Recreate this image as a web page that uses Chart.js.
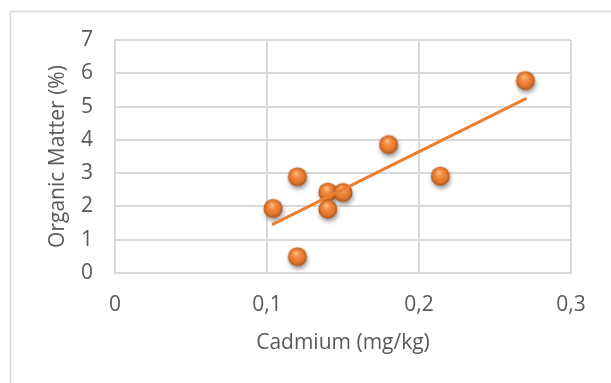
<!DOCTYPE html>
<html>
<head>
<meta charset="utf-8">
<script src="https://cdn.jsdelivr.net/npm/chart.js@4/dist/chart.umd.min.js"></script>
<style>
  html, body { margin: 0; padding: 0; background: #ffffff; }
  #wrap { width: 611px; height: 383px; }
</style>
</head>
<body>
<div id="wrap"><canvas id="chart" width="611" height="383"></canvas></div>
<script>
// Cadmium content of each soil sample (mg/kg) and its organic matter (%)
const cadmium = [0.104, 0.12, 0.12, 0.14, 0.14, 0.15, 0.18, 0.214, 0.27];
const organicMatter = [1.94, 2.89, 0.49, 2.43, 1.92, 2.42, 3.86, 2.91, 5.78];

// Linear trend line end points
const trendCadmium = [0.104, 0.27];
const trendOrganic = [1.47, 5.23];

// Axis ranges and tick steps
const xTicks = [0, 0.1, 0.2, 0.3];
const yTicks = [0, 1, 2, 3, 4, 5, 6, 7];

const xTitle = 'Cadmium (mg/kg)';
const yTitle = 'Organic Matter (%)';

const ORANGE = '#ED7D31';
const TEXT = '#595959';
const GRID = '#d9d9d9';
const FONT = { family: "'Open Sans', sans-serif", size: 21 };

// Shaded sphere marker with a soft drop shadow
function makeSphere() {
  const c = document.createElement('canvas');
  c.width = 34; c.height = 34;
  const g = c.getContext('2d');
  const cx = 17, cy = 17, r = 9.5;
  g.save();
  g.shadowColor = 'rgba(0,0,0,0.38)';
  g.shadowBlur = 4;
  g.shadowOffsetX = 1;
  g.shadowOffsetY = 3;
  const grad = g.createRadialGradient(cx - 1.5, cy - 4, 0.5, cx, cy, r);
  grad.addColorStop(0, '#fbbd86');
  grad.addColorStop(0.35, '#f28c3f');
  grad.addColorStop(0.75, '#e0752b');
  grad.addColorStop(1, '#a9521a');
  g.fillStyle = grad;
  g.beginPath();
  g.arc(cx, cy, r, 0, Math.PI * 2);
  g.fill();
  g.restore();
  return c;
}
const sphere = makeSphere();

const points = cadmium.map((x, i) => ({ x: x, y: organicMatter[i] }));
const trend = trendCadmium.map((x, i) => ({ x: x, y: trendOrganic[i] }));

// White background and the chart frame
const framePlugin = {
  id: 'frame',
  beforeDraw(chart) {
    const ctx = chart.ctx;
    ctx.save();
    ctx.fillStyle = '#ffffff';
    ctx.fillRect(0, 0, chart.width, chart.height);
    ctx.strokeStyle = GRID;
    ctx.lineWidth = 1.5;
    ctx.beginPath();
    ctx.moveTo(chart.width, 11.5);
    ctx.lineTo(10.5, 11.5);
    ctx.lineTo(10.5, chart.height);
    ctx.stroke();
    ctx.restore();
  }
};

const fmt = v => {
  const r = Math.round(v * 10) / 10;
  return r === 0 ? '0' : r.toFixed(1).replace('.', ',');
};

new Chart(document.getElementById('chart'), {
  type: 'scatter',
  data: {
    datasets: [
      {
        label: 'Trend',
        data: trend,
        showLine: true,
        borderColor: ORANGE,
        borderWidth: 3,
        borderCapStyle: 'round',
        pointRadius: 0,
        pointHoverRadius: 0,
        order: 0
      },
      {
        label: 'Samples',
        data: points,
        pointStyle: sphere,
        pointRadius: 10,
        order: 1
      }
    ]
  },
  plugins: [framePlugin],
  options: {
    responsive: false,
    animation: false,
    devicePixelRatio: 1,
    layout: { padding: { top: 40, right: 40, left: 0, bottom: 0 } },
    plugins: {
      legend: { display: false },
      tooltip: { enabled: false }
    },
    scales: {
      x: {
        type: 'linear',
        min: xTicks[0],
        max: xTicks[xTicks.length - 1],
        afterFit(scale) { scale.height = 110; },
        afterBuildTicks(scale) { scale.ticks = xTicks.map(v => ({ value: v })); },
        ticks: { color: TEXT, font: FONT, padding: 19, callback: v => fmt(v), maxRotation: 0 },
        grid: { color: GRID, lineWidth: 2, drawTicks: false },
        border: { color: GRID, width: 2 },
        title: { display: true, text: xTitle, color: TEXT, font: FONT, padding: { top: 0, bottom: 27 } }
      },
      y: {
        type: 'linear',
        min: yTicks[0],
        max: yTicks[yTicks.length - 1],
        afterFit(scale) { scale.width = 115; },
        afterBuildTicks(scale) { scale.ticks = yTicks.map(v => ({ value: v })); },
        ticks: { color: TEXT, font: FONT, padding: 22, callback: v => String(v) },
        grid: { color: GRID, lineWidth: 2, drawTicks: false },
        border: { color: GRID, width: 2 },
        title: { display: true, text: yTitle, color: TEXT, font: FONT, padding: { top: 45, bottom: 0 } }
      }
    }
  }
});
</script>
</body>
</html>
